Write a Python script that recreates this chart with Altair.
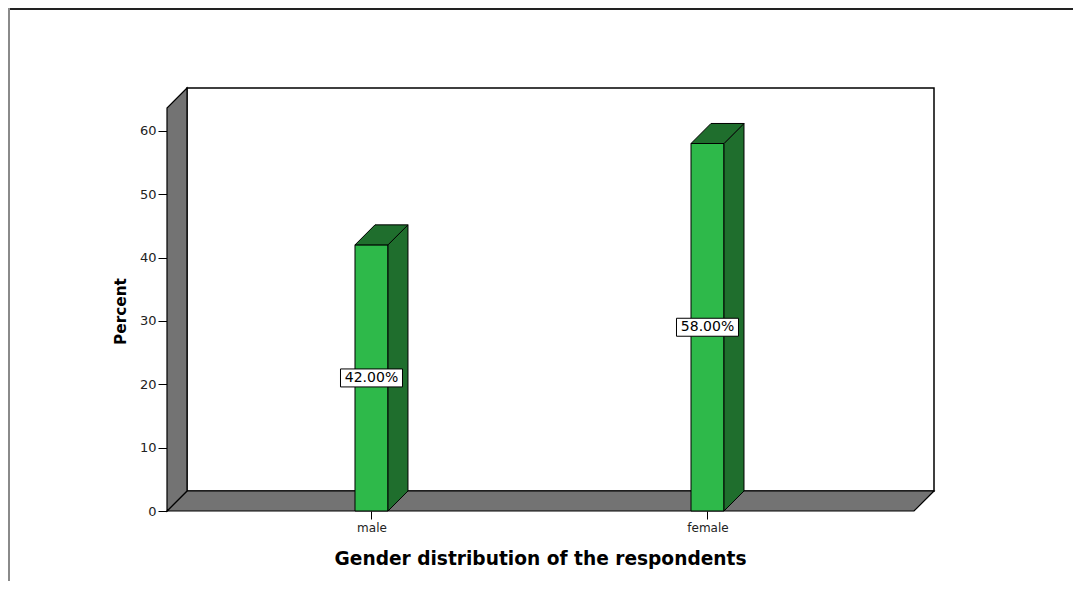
import altair as alt
import pandas as pd

# ---- data ----
categories = ["male", "female"]
percents = [42.0, 58.0]
y_ticks = [0, 10, 20, 30, 40, 50, 60]
x_title = "Gender distribution of the respondents"
y_title = "Percent"

# ---- layout / 3D style constants (data units) ----
X_MIN, X_MAX = 0.3914, 2.6741
DX = 0.0595          # depth offset in x
DY = 3.16            # depth offset in y
BAR_W = 0.0982
WALL_TOP = 63.6
Y_MAX = WALL_TOP + DY

GREEN = "#2eb94a"
DARK_GREEN = "#1f6e2d"
GRAY = "#737373"

pos = list(range(1, len(categories) + 1))

xs = alt.Scale(domain=[X_MIN, X_MAX], nice=False, zero=False)
ys = alt.Scale(domain=[0, Y_MAX], nice=False, zero=False)

bars = pd.DataFrame({"cat": categories, "pos": pos, "val": percents})
bars["x0"] = bars["pos"] - BAR_W / 2
bars["x1"] = bars["pos"] + BAR_W / 2
bars["mid"] = bars["val"] / 2
bars["label"] = [f"{v:.2f}%" for v in percents]

side_rows, top_rows = [], []
for c, p, v in zip(categories, pos, percents):
    x0 = p - BAR_W / 2
    x1 = p + BAR_W / 2
    side_rows.append({"cat": c, "x": x1, "y": 0.0, "y2": v})
    side_rows.append({"cat": c, "x": x1 + DX, "y": DY, "y2": v + DY})
    top_rows.append({"cat": c, "y": v, "x": x0, "x2": x1})
    top_rows.append({"cat": c, "y": v + DY, "x": x0 + DX, "x2": x1 + DX})
side = pd.DataFrame(side_rows)
top = pd.DataFrame(top_rows)

# walls
back = pd.DataFrame({"x": [X_MIN + DX], "x2": [X_MAX], "y": [DY], "y2": [Y_MAX]})
left_wall = pd.DataFrame({"x": [X_MIN, X_MIN + DX], "y": [0.0, DY], "y2": [WALL_TOP, Y_MAX]})
floor = pd.DataFrame({"y": [0.0, DY], "x": [X_MIN, X_MIN + DX], "x2": [X_MAX - DX, X_MAX]})

label_expr = "[" + ",".join(f"'{c}'" for c in categories) + "][datum.value - 1]"

x_axis = alt.Axis(values=pos, labelExpr=label_expr, title=x_title, domain=False, grid=False,
                  tickSize=8, tickColor="black", labelFont="DejaVu Sans", labelFontSize=12,
                  labelColor="#222", labelPadding=3, titleFont="DejaVu Sans", titleFontSize=18.6,
                  titleFontWeight="bold", titleColor="black", titlePadding=16,
                  titleX=373, titleAnchor="middle", titleAlign="center")
y_axis = alt.Axis(values=y_ticks, title=y_title, domain=False, grid=False, tickSize=9,
                  tickColor="black", labelFont="DejaVu Sans", labelFontSize=13, labelColor="#222",
                  labelPadding=2, titleFont="DejaVu Sans", titleFontSize=15.3, titleFontWeight="bold",
                  titleColor="black", titlePadding=11, titleY=223, titleAnchor="middle",
                  titleAlign="center")


def X(field):
    return alt.X(field, scale=xs, axis=x_axis)


def Y(field):
    return alt.Y(field, scale=ys, axis=y_axis)


back_layer = alt.Chart(back).mark_rect(fill="white", stroke="black", strokeWidth=1.5).encode(
    x=X("x:Q"), x2="x2:Q", y=Y("y:Q"), y2="y2:Q")

floor_layer = alt.Chart(floor).mark_area(orient="horizontal", fill=GRAY, stroke="black",
                                         strokeWidth=1.2).encode(
    y=Y("y:Q"), x=X("x:Q"), x2="x2:Q")

wall_layer = alt.Chart(left_wall).mark_area(fill=GRAY, stroke="black", strokeWidth=1.2).encode(
    x=X("x:Q"), y=Y("y:Q"), y2="y2:Q")

front_layer = alt.Chart(bars).mark_rect(fill=GREEN, stroke="black", strokeWidth=1).encode(
    x=X("x0:Q"), x2="x1:Q", y=Y("val:Q"), y2=alt.datum(0))

side_layer = alt.Chart(side).mark_area(fill=DARK_GREEN, stroke="black", strokeWidth=1).encode(
    x=X("x:Q"), y=Y("y:Q"), y2="y2:Q", detail="cat:N")

top_layer = alt.Chart(top).mark_area(orient="horizontal", fill=DARK_GREEN, stroke="black",
                                     strokeWidth=1).encode(
    y=Y("y:Q"), x=X("x:Q"), x2="x2:Q", detail="cat:N")

box_layer = alt.Chart(bars).mark_point(shape="M-1,-0.29L1,-0.29L1,0.29L-1,0.29Z", filled=True,
                                       fill="white", stroke="black", strokeWidth=1, opacity=1,
                                       size=3844).encode(
    x=X("pos:Q"), y=Y("mid:Q"))

text_layer = alt.Chart(bars).mark_text(font="DejaVu Sans", fontSize=14, color="black",
                                       baseline="middle", align="center").encode(
    x=X("pos:Q"), y=Y("mid:Q"), text="label:N")

frame = pd.DataFrame({"k": [0]})
top_rule = alt.Chart(frame).mark_rule(color="#222", strokeWidth=2).encode(
    x=alt.value(-159), x2=alt.value(920), y=alt.value(-79))
left_rule = alt.Chart(frame).mark_rule(color="#8a8a8a", strokeWidth=2).encode(
    x=alt.value(-158), y=alt.value(-80), y2=alt.value(505))

chart = alt.layer(back_layer, floor_layer, wall_layer, front_layer, side_layer, top_layer,
                  box_layer, text_layer, top_rule, left_rule).properties(
    width=767, height=423,
    autosize=alt.AutoSizeParams(type="none"),
    padding={"left": 159, "top": 80, "right": 139, "bottom": 70},
    background="white",
).configure_view(strokeWidth=0)

chart.save("out.html", embed_options={"renderer": "svg", "actions": False})
